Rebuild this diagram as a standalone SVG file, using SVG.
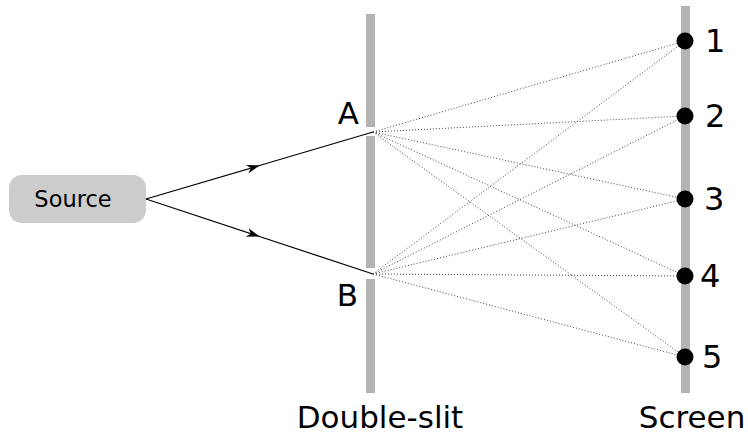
<svg xmlns="http://www.w3.org/2000/svg" width="748" height="435" viewBox="0 0 748 435">
<defs>
<style>
text{font-family:"DejaVu Sans",sans-serif;fill:#000}
.bar{fill:#b3b3b3}
.ray{fill:none;stroke:#000;stroke-width:1.2}
.dot{fill:none;stroke:#444;stroke-width:1;stroke-dasharray:1 2}
.lbl{font-size:31px}
.num{font-size:32px}
</style>
<marker id="arr" viewBox="-13 -5 14 10" markerWidth="14" markerHeight="10" markerUnits="userSpaceOnUse" orient="auto" refX="0" refY="0">
<path d="M0,0 L-13,-4.5 L-9,0 L-13,4.5 Z" fill="#000"/>
</marker>
</defs>
<rect width="748" height="435" fill="#fff"/>
<g id="source">
<rect x="9" y="175" width="137" height="48" rx="13" fill="#cccccc"/>
<text x="73" y="207" font-size="22.5" text-anchor="middle">Source</text>
</g>
<g id="double-slit">
<rect class="bar" x="366" y="14" width="9" height="113"/>
<rect class="bar" x="366" y="136" width="9" height="132"/>
<rect class="bar" x="366" y="279" width="9" height="114"/>
<text class="lbl" x="380" y="428" text-anchor="middle">Double-slit</text>
</g>
<g id="slitA"><text class="lbl" x="359" y="124" text-anchor="end">A</text></g>
<g id="slitB"><text class="lbl" x="358" y="306" text-anchor="end">B</text></g>
<g id="screen">
<rect class="bar" x="681" y="6" width="9" height="387"/>
<text class="lbl" x="692" y="428" text-anchor="middle">Screen</text>
</g>
<g id="connectors">
<path class="ray" d="M146,199 L259.5,165.5 L373,132" marker-mid="url(#arr)"/>
<path class="ray" d="M146,199 L259.5,236.5 L373,274" marker-mid="url(#arr)"/>
<path class="dot" d="M373,132 L685,41 M373,132 L685,116 M373,132 L685,199 M373,132 L685,276 M373,132 L685,357"/>
<path class="dot" d="M373,274 L685,41 M373,274 L685,116 M373,274 L685,199 M373,274 L685,276 M373,274 L685,357"/>
</g>
<g id="p1"><circle cx="685" cy="41" r="8.5"/><text class="num" x="705" y="52">1</text></g>
<g id="p2"><circle cx="685" cy="116" r="8.5"/><text class="num" x="705" y="127">2</text></g>
<g id="p3"><circle cx="685" cy="199" r="8.5"/><text class="num" x="704" y="210">3</text></g>
<g id="p4"><circle cx="685" cy="276" r="8.5"/><text class="num" x="700" y="287">4</text></g>
<g id="p5"><circle cx="685" cy="357" r="8.5"/><text class="num" x="702" y="368">5</text></g>
</svg>
